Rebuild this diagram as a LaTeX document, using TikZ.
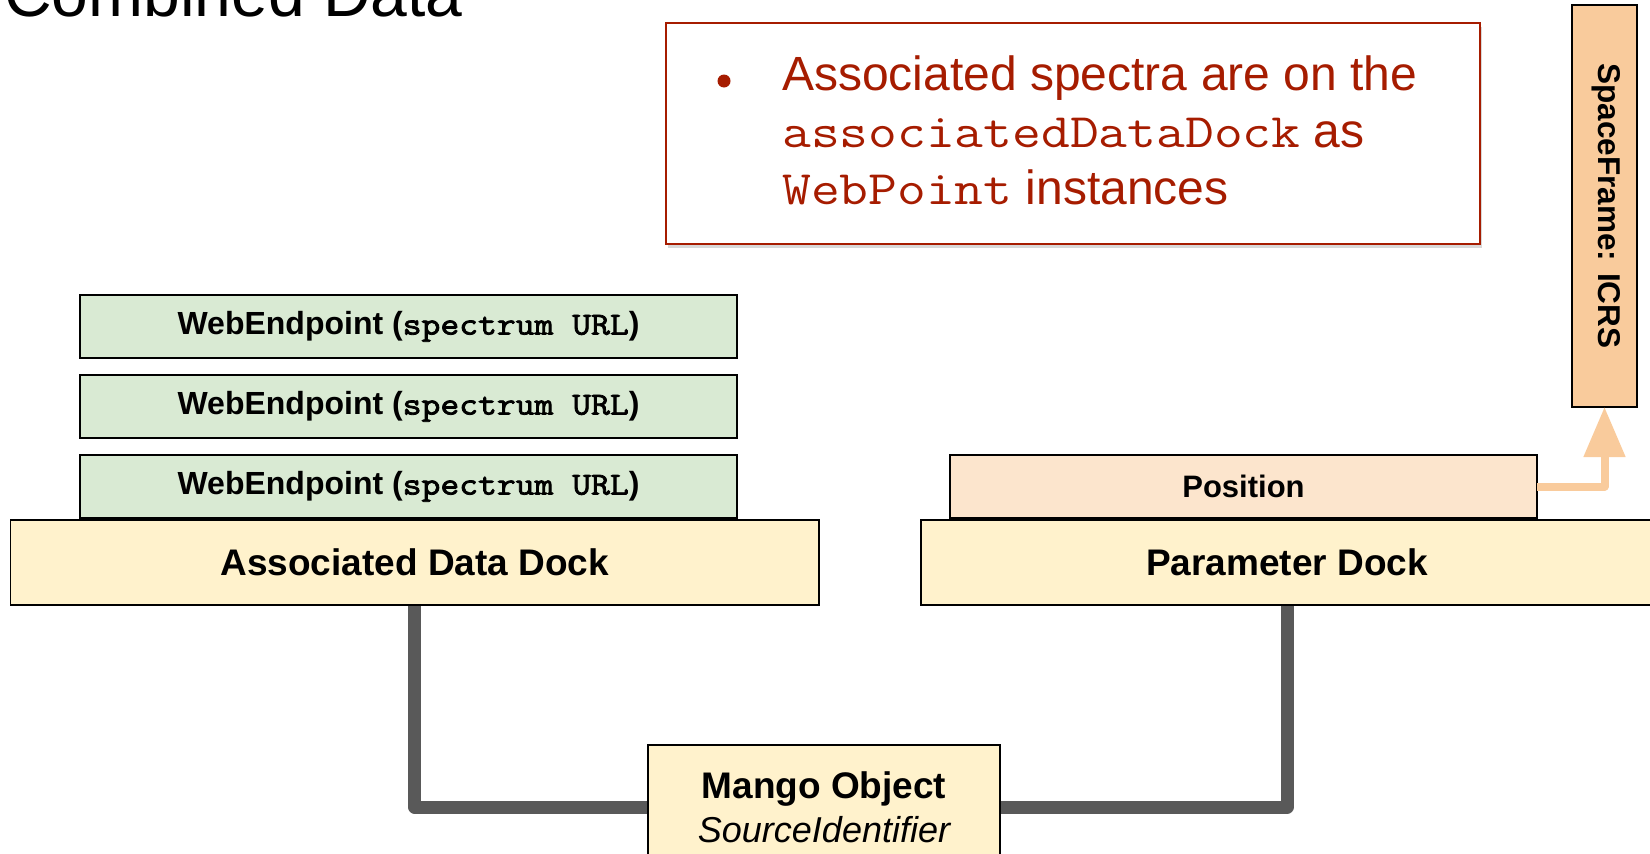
\documentclass[tikz,border=0pt]{standalone}
\usepackage{fontspec}
\setmainfont{Liberation Sans}
\newfontfamily\cour{Latin Modern Mono}[FakeStretch=1.165]
\newfontfamily\courbold{Latin Modern Mono}[FakeStretch=1.143, FakeBold=2.5]
\usetikzlibrary{arrows.meta,shadows,backgrounds}

\definecolor{dockfill}{HTML}{FFF2CC}
\definecolor{webfill}{HTML}{D9EAD3}
\definecolor{posfill}{HTML}{FCE5CD}
\definecolor{framefill}{HTML}{F9CB9C}
\definecolor{linkgray}{HTML}{595959}
\definecolor{noteRed}{HTML}{A61C00}

\tikzset{
  box/.style={draw=black, line width=1.4pt, inner sep=0pt, outer sep=0pt},
  dockbox/.style={box, fill=dockfill, font=\fontsize{37}{44}\selectfont\bfseries},
  webbox/.style={box, fill=webfill, minimum width=657, minimum height=63,
                 font=\fontsize{32}{38}\selectfont\bfseries},
  link/.style={draw=linkgray, line width=13pt, line join=round},
  framelink/.style={draw=framefill, line width=8pt, line join=round,
                    -{Triangle[width=40pt,length=50pt]}},
  notetext/.style={anchor=base west, inner sep=0pt, text=noteRed,
                   font=\fontsize{48}{57}\selectfont},
}

\begin{document}
\begin{tikzpicture}[x=1pt,y=-1pt]
\useasboundingbox (0,0) rectangle (1650,854);
\clip (0,0) rectangle (1650,854);

% page heading, partly cut off at the top
\node[anchor=base west, inner sep=0pt, font=\fontsize{66}{72}\selectfont]
  (heading) at (4,16) {Combined Data};

% note box
\node[draw=noteRed, line width=1.6pt, fill=white, minimum width=814, minimum height=221,
      inner sep=0pt, drop shadow={shadow xshift=2pt, shadow yshift=-4pt, fill=black!30}]
  (note) at (1073,133.5) {};
\node[circle, fill=noteRed, inner sep=0pt, minimum size=13] (bullet) at (724,81) {};
\node[notetext] (l1) at (782,90) {Associated spectra are on the};
\node[notetext] (l2) at (782,147) {{\cour associatedDataDock} as};
\node[notetext] (l3) at (782,204) {{\cour WebPoint} instances};

% docks and the object they hang from
\node[dockbox, minimum width=808.5, minimum height=85] (add) at (414.75,562.5) {Associated Data Dock};
\node[dockbox, minimum width=732, minimum height=85] (pd) at (1287,562.5) {Parameter Dock};
\node[box, fill=dockfill, minimum width=352, minimum height=124] (mango) at (824,807) {};
\node[anchor=base, inner sep=0pt, font=\fontsize{37}{44}\selectfont\bfseries]
  (mangoname) at (824,798) {Mango Object};
\node[anchor=base, inner sep=0pt, font=\fontsize{36}{44}\selectfont\itshape]
  (mangotype) at (824,842) {SourceIdentifier};
\begin{pgfonlayer}{background}
  \draw[link] (add.south) |- (mango.west);
  \draw[link] (pd.south) |- (mango.east);
\end{pgfonlayer}

% associated data entries
\node[webbox] (web1) at (408.5,326.5) {WebEndpoint ({\courbold spectrum URL})};
\node[webbox] (web2) at (408.5,406.5) {WebEndpoint ({\courbold spectrum URL})};
\node[webbox] (web3) at (408.5,486.5) {WebEndpoint ({\courbold spectrum URL})};

% parameter and its frame
\node[box, fill=posfill, minimum width=587, minimum height=63,
      font=\fontsize{31}{37}\selectfont\bfseries] (pos) at (1243.5,486.5) {Position};
\node[box, fill=framefill, minimum width=65, minimum height=402] (sf) at (1604.5,206) {};
\node[rotate=-90, inner sep=0pt, font=\fontsize{31.5}{36}\selectfont\bfseries]
  (sflabel) at (1606,206) {SpaceFrame: ICRS};
\draw[framelink] (pos.east) -| (sf.south);
\end{tikzpicture}
\end{document}
